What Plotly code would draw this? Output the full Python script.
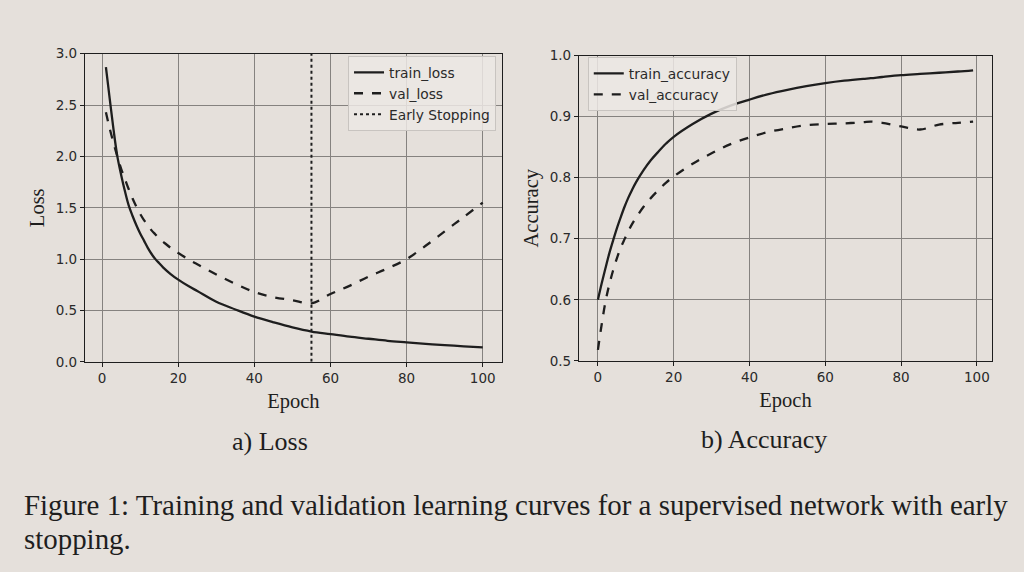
import plotly.graph_objects as go

# ---- data ----
loss_epochs = [1, 2, 3, 4, 5, 6, 7, 8, 9, 10, 11, 12, 13, 14, 15, 16, 18, 20, 23, 25, 30, 35, 40, 45, 50, 55, 60, 65, 70, 75, 80, 85, 90, 95, 100]
train_loss = [2.87, 2.56, 2.26, 2.00, 1.82, 1.66, 1.52, 1.42, 1.33, 1.25, 1.18, 1.11, 1.05, 1.00, 0.96, 0.92, 0.855, 0.80, 0.73, 0.69, 0.585, 0.51, 0.44, 0.385, 0.335, 0.295, 0.27, 0.245, 0.225, 0.205, 0.19, 0.175, 0.163, 0.151, 0.14]
val_loss = [2.43, 2.27, 2.13, 2.00, 1.88, 1.78, 1.68, 1.59, 1.51, 1.44, 1.38, 1.33, 1.28, 1.24, 1.20, 1.17, 1.11, 1.06, 0.99, 0.95, 0.85, 0.76, 0.68, 0.63, 0.60, 0.57, 0.66, 0.74, 0.83, 0.91, 1.00, 1.13, 1.27, 1.41, 1.55]
early_stop_epoch = 55

acc_epochs = [0, 1, 2, 3, 4, 5, 6, 7, 8, 9, 10, 12, 14, 16, 18, 20, 25, 30, 35, 40, 45, 50, 55, 60, 65, 70, 72, 75, 80, 85, 90, 95, 99]
train_acc = [0.600, 0.627, 0.652, 0.676, 0.697, 0.717, 0.735, 0.752, 0.767, 0.780, 0.792, 0.812, 0.829, 0.843, 0.856, 0.867, 0.888, 0.905, 0.918, 0.928, 0.937, 0.944, 0.950, 0.955, 0.959, 0.962, 0.963, 0.965, 0.968, 0.970, 0.972, 0.974, 0.976]
val_acc = [0.518, 0.560, 0.597, 0.625, 0.648, 0.668, 0.685, 0.699, 0.712, 0.724, 0.734, 0.752, 0.767, 0.780, 0.792, 0.802, 0.823, 0.840, 0.855, 0.866, 0.875, 0.881, 0.886, 0.888, 0.889, 0.891, 0.892, 0.890, 0.884, 0.879, 0.887, 0.890, 0.892]

loss_ticks = [0.0, 0.5, 1.0, 1.5, 2.0, 2.5, 3.0]
acc_ticks = [0.5, 0.6, 0.7, 0.8, 0.9, 1.0]
epoch_ticks = [0, 20, 40, 60, 80, 100]

BG = "#e5e0db"
INK = "#1e1e1e"
GRID = "#85827f"
TICKFONT = dict(family="DejaVu Sans", size=13.5, color="#2a2a2a")
TITLEFONT = dict(family="Liberation Serif", size=20.5, color=INK)
LEGFONT = dict(family="DejaVu Sans", size=13.8, color="#2a2a2a")

fig = go.Figure()

fig.add_trace(go.Scatter(x=loss_epochs, y=train_loss, mode="lines", name="train_loss",
                         line=dict(color=INK, width=2.3, shape="spline"), xaxis="x", yaxis="y", legend="legend"))
fig.add_trace(go.Scatter(x=loss_epochs, y=val_loss, mode="lines", name="val_loss",
                         line=dict(color=INK, width=2.3, dash="dash", shape="spline"), xaxis="x", yaxis="y", legend="legend"))
fig.add_trace(go.Scatter(x=[early_stop_epoch, early_stop_epoch], y=[loss_ticks[0], loss_ticks[-1]], mode="lines",
                         name="Early Stopping", line=dict(color=INK, width=2, dash="dot"),
                         xaxis="x", yaxis="y", legend="legend"))

fig.add_trace(go.Scatter(x=acc_epochs, y=train_acc, mode="lines", name="train_accuracy",
                         line=dict(color=INK, width=2.3, shape="spline"), xaxis="x2", yaxis="y2", legend="legend2"))
fig.add_trace(go.Scatter(x=acc_epochs, y=val_acc, mode="lines", name="val_accuracy",
                         line=dict(color=INK, width=2.3, dash="dash", shape="spline"), xaxis="x2", yaxis="y2", legend="legend2"))

axis_common = dict(showline=True, linecolor=INK, linewidth=1.3, mirror=True,
                   showgrid=True, gridcolor=GRID, gridwidth=1, zeroline=False,
                   ticks="outside", ticklen=4, tickcolor=INK, tickfont=TICKFONT)

fig.update_layout(
    width=1024, height=572,
    margin=dict(l=0, r=0, t=0, b=0),
    paper_bgcolor=BG, plot_bgcolor=BG,
    showlegend=True,
    xaxis=dict(domain=[0.083, 0.490], range=[-4.5, 105], tickvals=epoch_ticks,
               title=dict(text="Epoch", font=TITLEFONT, standoff=8), anchor="y", **axis_common),
    yaxis=dict(domain=[0.3636, 0.9178], range=[0, 3], tickvals=loss_ticks,
               ticktext=[f"{v:.1f}" for v in loss_ticks],
               title=dict(text="Loss", font=TITLEFONT, standoff=5), anchor="x", **axis_common),
    xaxis2=dict(domain=[0.5654, 0.9688], range=[-5, 104], tickvals=epoch_ticks,
                title=dict(text="Epoch", font=TITLEFONT, standoff=8), anchor="y2", **axis_common),
    yaxis2=dict(domain=[0.3654, 0.9143], range=[0.5, 1.0], tickvals=acc_ticks,
                ticktext=[f"{v:.1f}" for v in acc_ticks],
                title=dict(text="Accuracy", font=TITLEFONT, standoff=5), anchor="x2", **axis_common),
    legend=dict(x=0.4844, y=0.914, xanchor="right", yanchor="top",
                bgcolor="rgba(236,232,228,0.85)", bordercolor="#c8c4c0", borderwidth=1,
                font=LEGFONT, tracegroupgap=0, itemwidth=30),
    legend2=dict(x=0.574, y=0.912, xanchor="left", yanchor="top",
                 bgcolor="rgba(236,232,228,0.85)", bordercolor="#c8c4c0", borderwidth=1,
                 font=LEGFONT, tracegroupgap=0, itemwidth=30),
    annotations=[
        dict(text="a) Loss", x=270 / 1024, y=1 - 446 / 572, xref="paper", yref="paper",
             xanchor="center", yanchor="middle",
             showarrow=False, font=dict(family="Liberation Serif", size=26, color=INK)),
        dict(text="b) Accuracy", x=764 / 1024, y=1 - 444 / 572, xref="paper", yref="paper",
             xanchor="center", yanchor="middle",
             showarrow=False, font=dict(family="Liberation Serif", size=26, color=INK)),
        dict(text="Figure 1: Training and validation learning curves for a supervised network with early",
             x=22 / 1024, y=1 - 511 / 572, xref="paper", yref="paper", xanchor="left", yanchor="middle",
             showarrow=False, font=dict(family="Liberation Serif", size=28.9, color=INK)),
        dict(text="stopping.",
             x=22 / 1024, y=1 - 546 / 572, xref="paper", yref="paper", xanchor="left", yanchor="middle",
             showarrow=False, font=dict(family="Liberation Serif", size=28.9, color=INK)),
    ],
)

fig.write_html("out.html")
